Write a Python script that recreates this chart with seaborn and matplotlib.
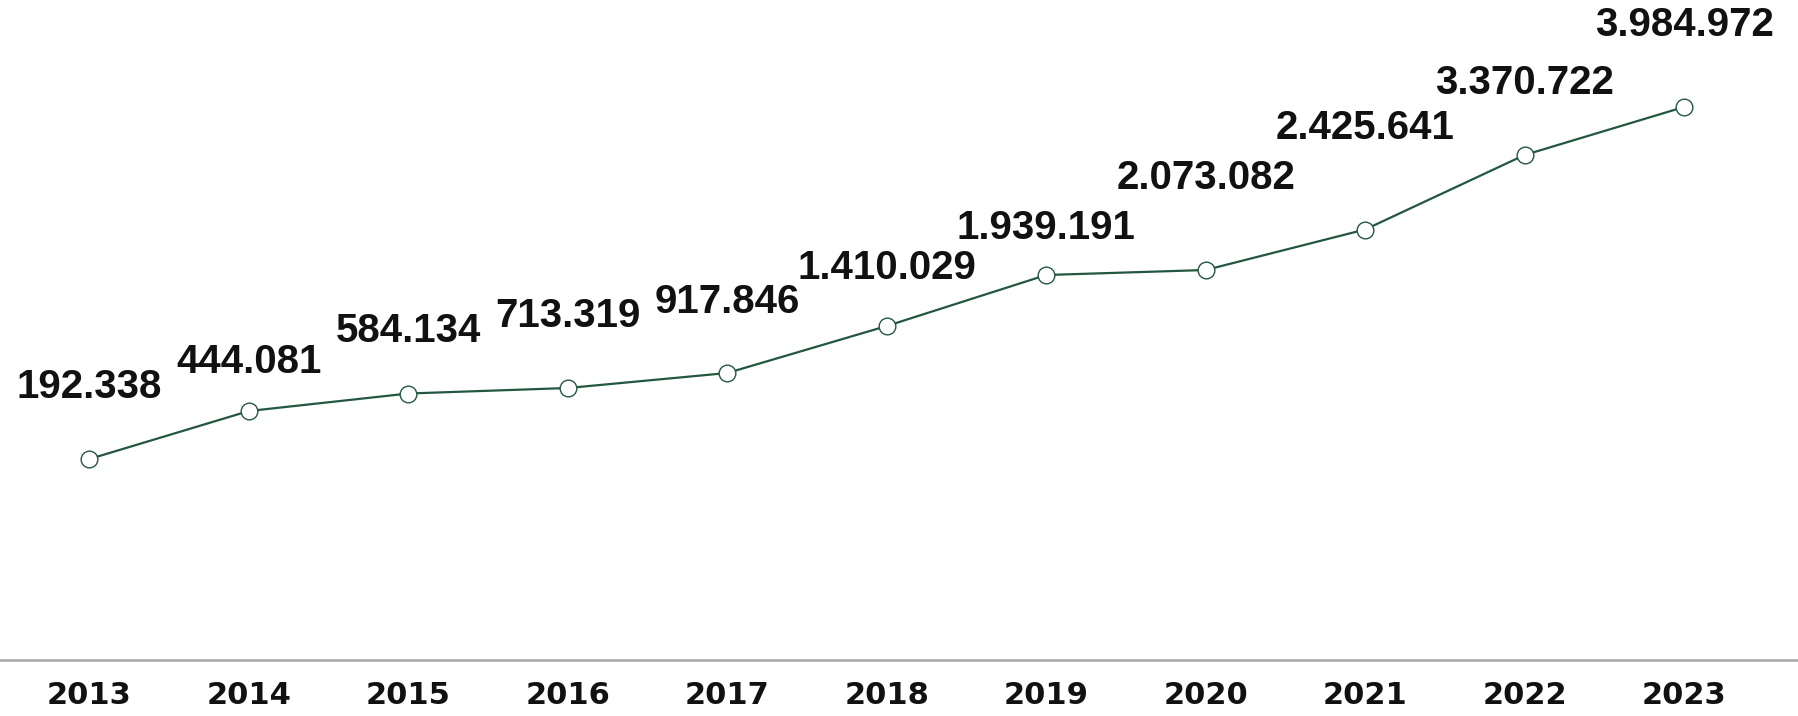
import matplotlib
matplotlib.use("Agg")
import matplotlib.pyplot as plt
import seaborn as sns
import pandas as pd

# Years on the x axis
years = [2013, 2014, 2015, 2016, 2017, 2018, 2019, 2020, 2021, 2022, 2023]

# Printed value above each point
label_values = [192338, 444081, 584134, 713319, 917846, 1410029,
                1939191, 2073082, 2425641, 3370722, 3984972]

# Height of each point on the (hidden) value axis
line_values = [192338, 709500, 898000, 957300, 1118900, 1625300,
               2174800, 2228700, 2665100, 3467800, 3984972]

# Vertical gap between point and its label, in points
label_gap = [52, 35, 45, 52, 51, 42, 34, 66, 73, 52, 59]

line_color = "#24573f"


def fmt_thousands(v):
    return f"{v:,}".replace(",", ".")


def make_chart():
    sns.set_theme(style="white")
    plt.rcParams["font.family"] = ["Liberation Sans", "DejaVu Sans"]

    df = pd.DataFrame({"year": years, "value": line_values})

    fig = plt.figure(figsize=(17.99, 7.16), dpi=100)
    ax = fig.add_axes([0, 0.0782, 1, 0.9218])

    sns.lineplot(
        data=df, x="year", y="value", ax=ax,
        color=line_color, linewidth=1.6,
        marker="o", markersize=12, markerfacecolor="white",
        markeredgecolor=line_color, markeredgewidth=1.0,
    )

    # value labels centred above each point
    for x, y, lab, gap in zip(years, line_values, label_values, label_gap):
        ax.annotate(
            fmt_thousands(lab), (x, y),
            xytext=(0, gap), textcoords="offset points",
            ha="center", va="center",
            fontsize=29, fontweight="bold", color="#111111",
        )

    ax.set_xlim(2012.439, 2023.721)
    ax.set_ylim(-1973337, 5137834)

    ax.set_xticks(years)
    ax.set_xticklabels([str(y) for y in years], fontsize=22, fontweight="bold",
                       color="#111111", family="DejaVu Sans")
    ax.tick_params(axis="x", length=0, pad=15)
    ax.set_yticks([])
    ax.set_xlabel("")
    ax.set_ylabel("")

    for side in ["top", "left", "right"]:
        ax.spines[side].set_visible(False)
    ax.spines["bottom"].set_color("#a8a8a8")
    ax.spines["bottom"].set_linewidth(1.8)

    fig.savefig("out.png", dpi=100, facecolor="white")
    plt.close(fig)


if __name__ == "__main__":
    make_chart()
